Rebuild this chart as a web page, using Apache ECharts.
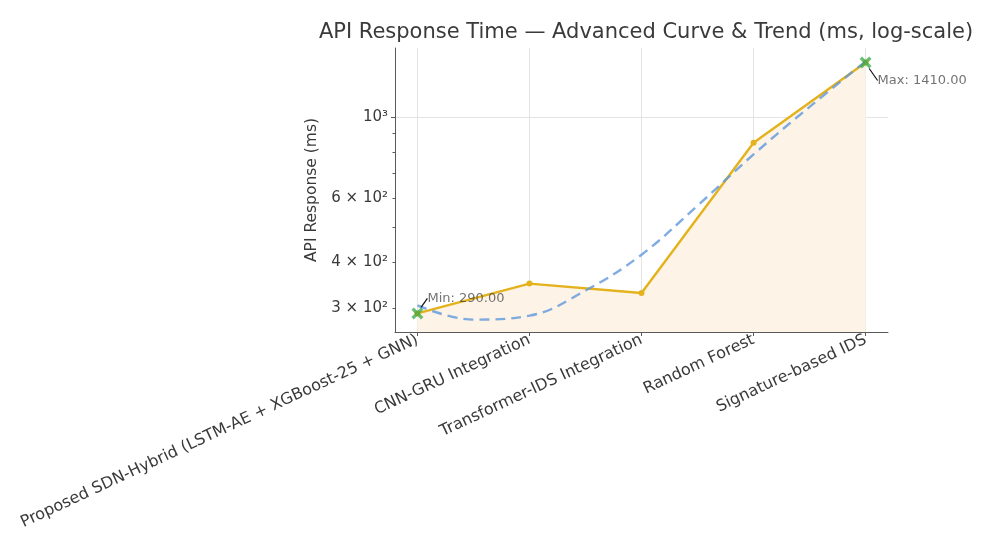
<!DOCTYPE html>
<html>
<head>
<meta charset="utf-8">
<script src="https://cdn.jsdelivr.net/npm/echarts@6/dist/echarts.min.js"></script>
<style>
  html, body { margin: 0; padding: 0; background: #ffffff; }
  #chart { width: 982px; height: 535px; }
</style>
</head>
<body>
<div id="chart"></div>
<script>
// Models compared and their API response times (ms)
const categories = [
  'Proposed SDN-Hybrid (LSTM-AE + XGBoost-25 + GNN)',
  'CNN-GRU Integration',
  'Transformer-IDS Integration',
  'Random Forest',
  'Signature-based IDS'
];
const responseMs = [290, 350, 330, 850, 1410];

// Fitted trend curve, sampled along the category positions
const trendX = [0, 0.5, 1, 1.5, 2, 2.5, 3, 3.5, 4];
const trendMs = [305, 279, 286, 335, 420, 572, 790, 1066, 1420];

// Y-axis labels (log scale)
const yTickValues = [300, 400, 600, 1000];
const yTickLabels = ['3 × 10²', '4 × 10²', '6 × 10²', '10³'];
const yMinorTicks = [300, 400, 500, 600, 700, 800, 900, 1000];
const yMajorTicks = [1000];

const FONT = '"DejaVu Sans", "Liberation Sans", sans-serif';
const TEXT = '#3a3a3a';
const AXIS = '#5a5a5a';
const GRIDC = '#e4e4e4';

const categoryIdx = categories.map((_, i) => i);
const mainData = responseMs.map((v, i) => [i, v]);
const trendData = trendX.map((x, i) => [x, trendMs[i]]);

const minVal = Math.min(...responseMs);
const maxVal = Math.max(...responseMs);
const minIdx = responseMs.indexOf(minVal);
const maxIdx = responseMs.indexOf(maxVal);

function yLabel(v) {
  let best = 0, bestD = Infinity;
  yTickValues.forEach((t, i) => {
    const d = Math.abs(Math.log10(t) - Math.log10(v));
    if (d < bestD) { bestD = d; best = i; }
  });
  return yTickLabels[best];
}

// Offsets of the min / max annotation texts from their markers
const annotationShift = [
  { dx: 0, dy: -15 },
  { dx: 2, dy: 18 }
];

const X_MARK = 'path://M2,0 L5,3 L8,0 L10,2 L7,5 L10,8 L8,10 L5,7 L2,10 L0,8 L3,5 L0,2 Z';

const chart = echarts.init(document.getElementById('chart'), null, { renderer: 'canvas' });

chart.setOption({
  backgroundColor: '#ffffff',
  animation: false,
  textStyle: { fontFamily: FONT },
  title: {
    text: 'API Response Time — Advanced Curve & Trend (ms, log-scale)',
    left: 641,
    textAlign: 'center',
    top: 17,
    textStyle: { fontFamily: FONT, fontSize: 21, fontWeight: 'normal', color: TEXT }
  },
  grid: { left: 395, right: 94, top: 48, bottom: 203, containLabel: false },
  xAxis: {
    type: 'value',
    min: -0.2,
    max: 4.2,
    axisLine: { show: true, onZero: false, lineStyle: { color: AXIS, width: 1 } },
    axisTick: { show: true, customValues: categoryIdx, length: 4, lineStyle: { color: AXIS } },
    splitLine: { show: true, lineStyle: { color: GRIDC, width: 1 } },
    axisLabel: {
      customValues: categoryIdx,
      rotate: 25,
      margin: 7,
      fontFamily: FONT,
      fontSize: 16,
      color: TEXT,
      formatter: (v) => categories[Math.round(v)] || ''
    }
  },
  yAxis: [
    {
      type: 'log',
      logBase: 10,
      min: 258,
      max: 1545,
      name: 'API Response (ms)',
      nameLocation: 'middle',
      nameGap: 74,
      nameTextStyle: { fontFamily: FONT, fontSize: 15.5, color: TEXT },
      axisLine: { show: true, onZero: false, lineStyle: { color: AXIS, width: 1 } },
      axisTick: { show: true, customValues: yMinorTicks, length: 2.5, lineStyle: { color: AXIS } },
      splitLine: { show: false },
      axisLabel: {
        customValues: yTickValues,
        margin: 7,
        fontFamily: FONT,
        fontSize: 15,
        color: TEXT,
        formatter: yLabel
      }
    },
    {
      type: 'log',
      logBase: 10,
      min: 258,
      max: 1545,
      position: 'left',
      axisLine: { show: false, onZero: false },
      axisTick: { show: true, customValues: yMajorTicks, length: 4, lineStyle: { color: AXIS } },
      splitLine: { show: true, lineStyle: { color: GRIDC, width: 1 } },
      axisLabel: { show: false }
    }
  ],
  series: [
    {
      name: 'API Response',
      type: 'line',
      data: mainData,
      yAxisIndex: 0,
      z: 3,
      symbol: 'circle',
      symbolSize: 6,
      itemStyle: { color: '#e3b21c' },
      lineStyle: { color: '#e3b21c', width: 2.4 },
      areaStyle: { color: '#fdf3e6', opacity: 1, origin: 'start' }
    },
    {
      name: 'Trend',
      type: 'line',
      data: trendData,
      yAxisIndex: 0,
      z: 4,
      smooth: 0.4,
      showSymbol: false,
      lineStyle: { color: '#5f97dc', width: 2.4, type: [10, 6], opacity: 0.8 }
    },
    {
      name: 'Extremes',
      type: 'scatter',
      yAxisIndex: 0,
      z: 5,
      symbol: X_MARK,
      symbolSize: 12,
      itemStyle: { color: '#3aa84a', opacity: 0.75 },
      label: {
        show: true,
        position: 'right',
        distance: 4,
        fontFamily: FONT,
        fontSize: 13,
        color: '#444444',
        formatter: (p) => (p.dataIndex === 0 ? 'Min: ' : 'Max: ') + p.value[1].toFixed(2)
      },
      labelLine: { show: true, lineStyle: { color: '#111111', width: 1.2 } },
      labelLayout: (p) => annotationShift[p.dataIndex],
      data: [
        [minIdx, minVal],
        [maxIdx, maxVal]
      ]
    }
  ]
});
</script>
</body>
</html>
